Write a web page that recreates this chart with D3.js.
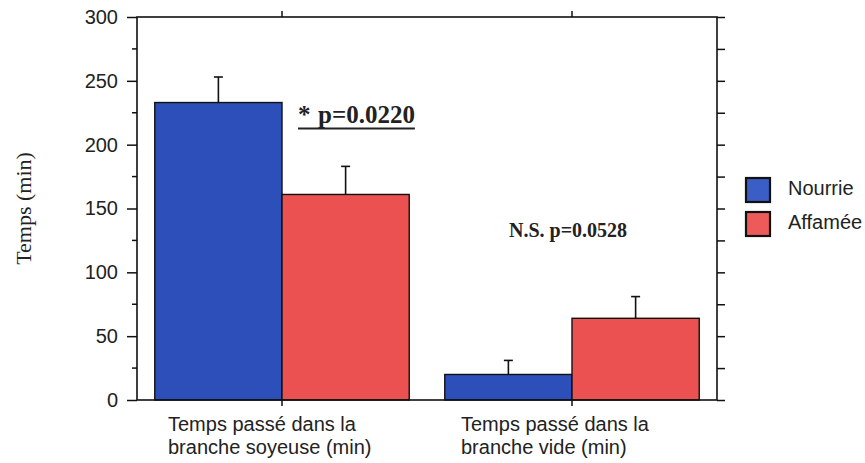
<!DOCTYPE html>
<html>
<head>
<meta charset="utf-8">
<script src="https://cdn.jsdelivr.net/npm/d3@7"></script>
<style>
  body { margin: 0; background: #fff; }
  svg { display: block; }
</style>
</head>
<body>
<div id="chart"></div>
<script>
/* ---------- data ---------- */
const groups = ['soyeuse', 'vide'];
const groupLabels = [
  ['Temps passé dans la', 'branche soyeuse (min)'],
  ['Temps passé dans la', 'branche vide (min)']
];
const series = ['Nourrie', 'Affamée'];
const means = [[233, 161], [20, 64]];      // [group][series]
const errors = [[20, 22], [11, 17]];
const yTicks = [0, 50, 100, 150, 200, 250, 300];
const sigStar = '*';
const sigText = 'p=0.0220';
const nsText = 'N.S. p=0.0528';

const colors = ['#2c4fb9', '#eb5150'];
const legendColors = ['#3a5ec6', '#ee5a5a'];

const sans = 'Liberation Sans, Arial, sans-serif';
const serif = 'Liberation Serif, Times New Roman, serif';

/* ---------- layout ---------- */
const W = 865, H = 463;
const m = { top: 17, right: 148, bottom: 63, left: 137 };

const svg = d3.select('#chart').append('svg')
  .attr('width', W).attr('height', H);

const x0 = d3.scaleBand()
  .domain(groups)
  .range([m.left, W - m.right])
  .paddingInner(0.1226)
  .paddingOuter(0.0613);

const x1 = d3.scaleBand()
  .domain(series)
  .range([0, x0.bandwidth()]);

const y = d3.scaleLinear().domain([0, 300]).range([H - m.bottom, m.top]);

const center = (g) => x0(g) + x0.bandwidth() / 2;

/* ---------- bars ---------- */
const gBars = svg.append('g');
groups.forEach((g, gi) => {
  series.forEach((s, si) => {
    const v = means[gi][si], e = errors[gi][si];
    const bx = x0(g) + x1(s);
    const cx = bx + x1.bandwidth() / 2;
    // error bar
    gBars.append('line')
      .attr('x1', cx).attr('x2', cx)
      .attr('y1', y(v)).attr('y2', y(v + e))
      .attr('stroke', '#111').attr('stroke-width', 1.6);
    gBars.append('line')
      .attr('x1', cx - 4.5).attr('x2', cx + 4.5)
      .attr('y1', y(v + e)).attr('y2', y(v + e))
      .attr('stroke', '#111').attr('stroke-width', 1.6);
    gBars.append('rect')
      .attr('x', bx).attr('width', x1.bandwidth())
      .attr('y', y(v)).attr('height', y(0) - y(v))
      .attr('fill', colors[si])
      .attr('stroke', '#111').attr('stroke-width', 1.4);
  });
});

/* ---------- axes ---------- */
const axisColor = '#111';
// left axis
const leftAxis = svg.append('g').attr('transform', `translate(${m.left},0)`);
leftAxis.call(d3.axisLeft(y).tickValues(yTicks).tickSize(10).tickPadding(9))
  .call(g => g.select('.domain').remove());
leftAxis.selectAll('.tick line').attr('stroke', axisColor).attr('stroke-width', 1.5);
leftAxis.selectAll('.tick text')
  .attr('font-family', sans)
  .attr('font-size', 20).attr('fill', '#222');
leftAxis.selectAll('.minor')
  .data(d3.range(25, 300, 50))
  .join('line')
  .attr('x1', -5).attr('x2', 0)
  .attr('y1', d => y(d)).attr('y2', d => y(d))
  .attr('stroke', axisColor).attr('stroke-width', 1.5);

// right axis
const rightAxis = svg.append('g').attr('transform', `translate(${W - m.right},0)`);
rightAxis.call(d3.axisRight(y).tickValues(d3.range(0, 301, 25)).tickSize(8).tickFormat(''))
  .call(g => g.select('.domain').remove());
rightAxis.selectAll('.tick line').attr('stroke', axisColor).attr('stroke-width', 1.5);

// bottom axis
const bottomAxis = svg.append('g').attr('transform', `translate(0,${y(0)})`);
bottomAxis.call(d3.axisBottom(x0).tickSize(6).tickFormat(''))
  .call(g => g.select('.domain').remove());
bottomAxis.selectAll('.tick line').attr('stroke', axisColor).attr('stroke-width', 1.5);

// top axis
const topAxis = svg.append('g').attr('transform', `translate(0,${y(300)})`);
topAxis.call(d3.axisTop(x0).tickSize(6).tickFormat(''))
  .call(g => g.select('.domain').remove());
topAxis.selectAll('.tick line').attr('stroke', axisColor).attr('stroke-width', 1.5);

// frame
svg.append('rect')
  .attr('x', m.left).attr('y', y(300))
  .attr('width', W - m.right - m.left).attr('height', y(0) - y(300))
  .attr('fill', 'none').attr('stroke', axisColor).attr('stroke-width', 1.6);

/* ---------- category labels ---------- */
groups.forEach((g, gi) => {
  const t = svg.append('text')
    .attr('font-family', sans)
    .attr('font-size', 20).attr('fill', '#222');
  groupLabels[gi].forEach((line, li) => {
    t.append('tspan')
      .attr('x', center(g) - (gi === 0 ? 114 : 111))
      .attr('y', 431 + li * 23)
      .text(line);
  });
});

/* ---------- y title ---------- */
svg.append('text')
  .attr('transform', `translate(31,${(y(0) + y(300)) / 2}) rotate(-90)`)
  .attr('text-anchor', 'middle')
  .attr('font-family', serif)
  .attr('font-size', 22).attr('fill', '#222')
  .text('Temps (min)');

/* ---------- annotations ---------- */
const ax = x0(groups[0]) + x1(series[1]) + 16;
const a1 = svg.append('text')
  .attr('y', 123)
  .attr('font-family', serif)
  .attr('font-weight', 'bold')
  .attr('font-size', 25).attr('fill', '#222');
a1.append('tspan').attr('x', ax).text(sigStar);
a1.append('tspan').attr('x', ax + 20).text(sigText);
const bb = a1.node().getBBox();
svg.append('line')
  .attr('x1', ax).attr('x2', bb.x + bb.width)
  .attr('y1', 128.5).attr('y2', 128.5)
  .attr('stroke', '#222').attr('stroke-width', 2);

svg.append('text')
  .attr('x', center(groups[1]) - 63)
  .attr('y', 237)
  .attr('font-family', serif)
  .attr('font-weight', 'bold')
  .attr('font-size', 20).attr('fill', '#222')
  .text(nsText);

/* ---------- legend ---------- */
const legend = svg.append('g').attr('transform', 'translate(746,178)');
series.forEach((s, i) => {
  const row = legend.append('g').attr('transform', `translate(0,${i * 34})`);
  row.append('rect')
    .attr('width', 24).attr('height', 24)
    .attr('fill', legendColors[i])
    .attr('stroke', '#111').attr('stroke-width', 2.2);
  row.append('text')
    .attr('x', 42).attr('y', 17)
    .attr('font-family', sans)
    .attr('font-size', 20).attr('fill', '#222')
    .text(s);
});
</script>
</body>
</html>
